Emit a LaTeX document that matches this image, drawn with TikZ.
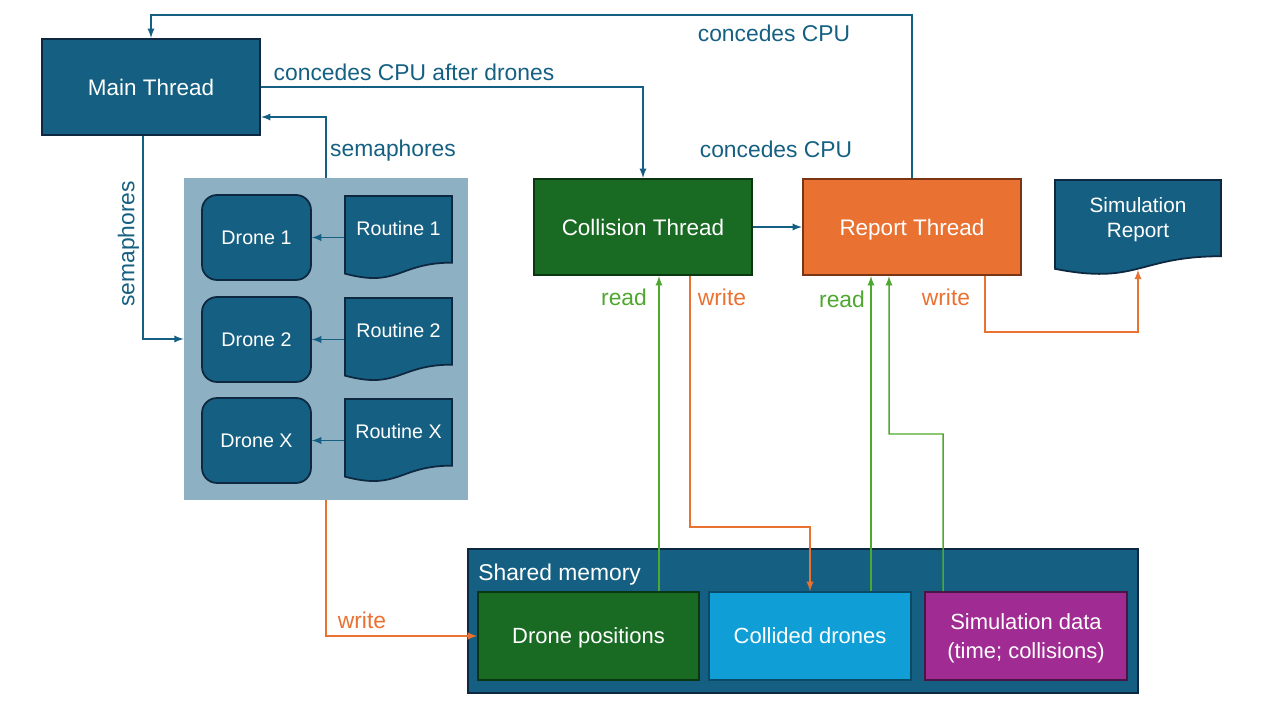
\documentclass[tikz,border=0pt]{standalone}
\usepackage{fontspec}
\setmainfont{Liberation Sans}
\usetikzlibrary{calc}

\definecolor{acc1}{HTML}{156082}
\definecolor{acc2}{HTML}{E97132}
\definecolor{acc3}{HTML}{196B24}
\definecolor{acc4}{HTML}{0F9ED5}
\definecolor{acc5}{HTML}{A02B93}
\definecolor{accG}{HTML}{4EA72E}
\definecolor{navy}{HTML}{0E2841}
\definecolor{grouplight}{HTML}{8DB0C2}
\definecolor{greenline}{HTML}{0C3512}
\definecolor{orangeline}{HTML}{7A3416}
\definecolor{cyanline}{HTML}{0B4A66}
\definecolor{purpleline}{HTML}{4A1444}

\tikzset{
  thread/.style={draw, line width=1.2pt, text=white, minimum width=4.36cm, minimum height=1.92cm,
    text depth=0pt, font=\fontsize{12.8}{15}\selectfont},
  drone/.style={draw=navy, fill=acc1, line width=1pt, rounded corners=0.3cm, text=white,
    minimum width=2.18cm, minimum height=1.7cm, font=\fontsize{11.2}{13}\selectfont},
  docshape/.style={path picture={
    \filldraw[#1, line width=1pt]
      let \p1=([shift={(0.5pt,-0.5pt)}]path picture bounding box.north west),
          \p2=([shift={(-0.5pt,0.5pt)}]path picture bounding box.south east) in
      (\x1,\y1) -- (\x2,\y1) -- (\x2,{\y1+0.802*(\y2-\y1)})
      .. controls ({0.5*(\x1+\x2)},{\y1+0.802*(\y2-\y1)}) and ({0.5*(\x1+\x2)},{\y1+1.107*(\y2-\y1)})
      .. (\x1,{\y1+0.934*(\y2-\y1)}) -- cycle;}},
  routine/.style={docshape={fill=acc1, draw=navy}, text=white, minimum width=2.18cm, minimum height=1.7cm,
    text height=0.3cm, text depth=0.36cm, font=\fontsize{11.2}{13}\selectfont},
  memory/.style={draw, line width=1pt, text=white, minimum height=1.76cm, text depth=0pt,
    font=\fontsize{12.5}{17}\selectfont},
  lbl/.style={inner sep=0pt, text=acc1, text depth=0pt, font=\fontsize{13}{15}\selectfont},
  conn/.style={->, draw=acc1, line width=0.85pt},
  readln/.style={->, draw=accG, line width=0.85pt},
  writeln/.style={->, draw=acc2, line width=0.85pt}
}

\begin{document}
\begin{tikzpicture}[x=0.02cm, y=-0.02cm, >=latex]
  \useasboundingbox (0,0) rectangle (1269,709);

  % threads
  \node[thread, fill=acc1, draw=navy] (main) at (151,87) {Main Thread};
  \node[thread, fill=acc3, draw=greenline] (collision) at (643,227) {Collision Thread};
  \node[thread, fill=acc2, draw=orangeline] (report) at (912,227) {Report Thread};
  \node[docshape={fill=acc1, draw=navy}, text=white, align=center, minimum width=3.36cm, minimum height=1.94cm,
    font=\fontsize{11.8}{14.7}\selectfont, text height=0.9cm, text depth=0.48cm] (simrep) at (1138,227.5) {Simulation\\Report};

  % drones and their routines
  \node[fill=grouplight, minimum width=5.68cm, minimum height=6.44cm] (group) at (326,339) {};
  \node[drone] (drone1) at (256.5,237.5) {Drone 1};
  \node[drone] (drone2) at (256.5,339.5) {Drone 2};
  \node[drone] (drone3) at (256.5,440.5) {Drone X};
  \node[routine] (routine1) at (398.5,237.5) {Routine 1};
  \node[routine] (routine2) at (398.5,339.5) {Routine 2};
  \node[routine] (routine3) at (398.5,440.5) {Routine X};
  \draw[conn] (routine1) -- (drone1);
  \draw[conn] (routine2) -- (drone2);
  \draw[conn] (routine3) -- (drone3);

  % shared memory
  \node[draw=navy, fill=acc1, line width=1pt, minimum width=13.4cm, minimum height=2.88cm] (shm) at (803,621) {};
  \node[anchor=west, text=white, inner sep=0pt, text depth=0pt, font=\fontsize{13}{15}\selectfont] (shmlbl) at (478,572) {Shared memory};
  \node[memory, fill=acc3, draw=greenline, minimum width=4.42cm] (dpos) at (588.5,636) {Drone positions};
  \node[memory, fill=acc4, draw=cyanline, minimum width=4.04cm] (collided) at (810,636) {Collided drones};
  \node[memory, fill=acc5, draw=purpleline, minimum width=4.04cm, align=center] (simdata) at (1026,636) {Simulation data\\(time; collisions)};

  % CPU and semaphores
  \coordinate (cpuTop) at (500,15);
  \draw[conn] (report.north) |- (cpuTop) -| (main.north);
  \draw[conn] (main.east) -| (collision.north);
  \draw[conn] (group.north) |- ([yshift=-0.6cm]main.east);
  \draw[conn] ([xshift=-0.16cm]main.south) |- (group.west);
  \draw[conn] (collision) -- (report);

  % reads and writes
  \draw[writeln] (group.south) |- (dpos.west);
  \coordinate (colRead) at ([xshift=0.32cm]collision.south);
  \draw[readln] (dpos.north -| colRead) -- (colRead);
  \coordinate (colWrite) at ([xshift=0.94cm]collision.south);
  \coordinate (colTurn) at (700,527);
  \draw[writeln] (colWrite) |- (colTurn) -| (collided.north);
  \coordinate (repRead) at ([xshift=-0.82cm]report.south);
  \draw[readln] (collided.north -| repRead) -- (repRead);
  \coordinate (repData) at ([xshift=-0.46cm]report.south);
  \coordinate (dataTurn) at (889,434);
  \draw[readln] ([xshift=-1.66cm]simdata.north) |- (dataTurn) -- (repData);
  \coordinate (repWrite) at ([xshift=1.46cm]report.south);
  \coordinate (repTurn) at (1000,332);
  \draw[writeln] (repWrite) |- (repTurn) -| ([yshift=0.13cm]simrep.south);

  % labels
  \node[lbl] (lblCpuTop) at (774,33) {concedes CPU};
  \node[lbl] (lblAfter) at (414,72) {concedes CPU after drones};
  \node[lbl] (lblSemTop) at (393,148) {semaphores};
  \node[lbl] (lblCpuMid) at (776,149) {concedes CPU};
  \node[lbl, rotate=90] (lblSemLeft) at (126,244) {semaphores};
  \node[lbl, text=accG] (lblRead1) at (624,297) {read};
  \node[lbl, text=acc2] (lblWrite1) at (722,297) {write};
  \node[lbl, text=accG] (lblRead2) at (842,299) {read};
  \node[lbl, text=acc2] (lblWrite2) at (946,297) {write};
  \node[lbl, text=acc2] (lblWrite3) at (362,620) {write};
\end{tikzpicture}
\end{document}
